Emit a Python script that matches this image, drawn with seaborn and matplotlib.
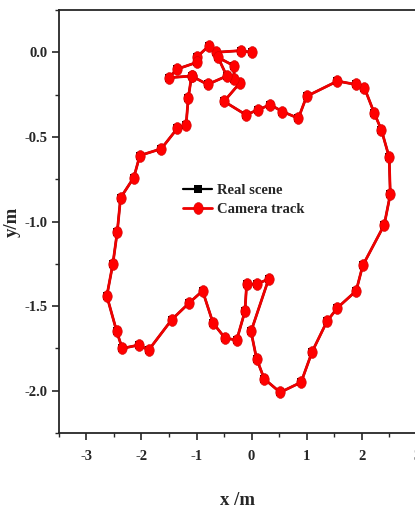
import numpy as np
import pandas as pd
import matplotlib
matplotlib.use("Agg")
import matplotlib.pyplot as plt
import seaborn as sns

# trajectory points (x /m, y /m), in the order they were recorded
track_x = [0.00, -0.20, -0.65, -0.77, -1.00, -1.00, -1.36, -1.50, -1.09, -1.15,
           -1.19, -1.35, -1.64, -2.03, -2.14, -2.38, -2.44, -2.52, -2.63, -2.45,
           -2.35, -2.05, -1.87, -1.45, -1.13, -0.89, -0.70, -0.48, -0.27, -0.12,
           -0.09, 0.09, 0.31, -0.01, 0.09, 0.23, 0.52, 0.90, 1.10, 1.37,
           1.56, 1.90, 2.02, 2.41, 2.52, 2.50, 2.36, 2.23, 2.05, 1.89,
           1.56, 1.00, 0.85, 0.56, 0.34, 0.11, -0.10, -0.50, -0.21, -0.32,
           -0.32, -0.61, -0.45, -0.80, -1.09]
track_y = [0.00, 0.01, 0.00, 0.04, -0.03, -0.06, -0.10, -0.15, -0.14, -0.27,
           -0.43, -0.45, -0.57, -0.61, -0.74, -0.86, -1.06, -1.25, -1.44, -1.65,
           -1.75, -1.73, -1.76, -1.58, -1.48, -1.41, -1.60, -1.69, -1.70, -1.53,
           -1.37, -1.37, -1.34, -1.65, -1.81, -1.93, -2.01, -1.95, -1.77, -1.59,
           -1.51, -1.41, -1.26, -1.02, -0.84, -0.62, -0.46, -0.36, -0.21, -0.19,
           -0.17, -0.26, -0.39, -0.35, -0.31, -0.34, -0.37, -0.29, -0.18, -0.16,
           -0.08, -0.03, -0.14, -0.19, -0.14]

# the real scene lies under the camera track
real_x = list(track_x)
real_y = list(track_y)

df_real = pd.DataFrame({'x': real_x, 'y': real_y})
df_cam = pd.DataFrame({'x': track_x, 'y': track_y})

sns.set_style('ticks')
plt.rcParams['font.family'] = ['Liberation Serif', 'DejaVu Serif']
plt.rcParams['font.weight'] = 'bold'
plt.rcParams['axes.labelweight'] = 'bold'
plt.rcParams['axes.unicode_minus'] = False

fig = plt.figure(figsize=(4.15, 5.14), dpi=100)
ax = fig.add_axes([0.142, 0.1576, 0.9284, 0.8229])

t = np.linspace(0, 2 * np.pi, 40)
oval = list(zip(0.8 * np.cos(t), np.sin(t)))

sns.lineplot(data=df_real, x='x', y='y', sort=False, estimator=None, ax=ax,
             color='black', linewidth=1.6, marker='s', markersize=6,
             markeredgewidth=0, label='Real scene')
sns.lineplot(data=df_cam, x='x', y='y', sort=False, estimator=None, ax=ax,
             color='#ee0000', linewidth=2.0, marker=oval, markersize=8.5,
             markerfacecolor='#ff0000', markeredgecolor='#cc0000',
             markeredgewidth=0.4, label='Camera track')

ax.set_xlim(-3.5, 3.5)
ax.set_ylim(-2.25, 0.25)
ax.set_xticks([-3, -2, -1, 0, 1, 2, 3])
ax.set_xticks(np.arange(-3.5, 3.6, 0.5), minor=True)
ax.set_yticks([0.0, -0.5, -1.0, -1.5, -2.0])
ax.set_yticks(np.arange(-2.25, 0.26, 0.25), minor=True)
ax.set_yticklabels(['0.0', '-0.5', '-1.0', '-1.5', '-2.0'])

ax.tick_params(axis='both', which='major', direction='out', length=5,
               width=1.2, labelsize=10.5, pad=7)
ax.tick_params(axis='both', which='minor', direction='out', length=3, width=1.0)
ax.tick_params(axis='y', which='major', pad=3)
for s in ax.spines.values():
    s.set_linewidth(1.3)

ax.set_xlabel('x /m', fontsize=13.5)
ax.set_ylabel('y/m', fontsize=13.5)
ax.xaxis.set_label_coords((238 - 59) / 385.2, -0.14)
ax.yaxis.set_label_coords(-0.098, 0.5)

leg = ax.legend(loc='upper left', bbox_to_anchor=(0.322, 0.59), frameon=False,
                fontsize=10.5, handlelength=2.0, handletextpad=0.3,
                borderpad=0, borderaxespad=0, labelspacing=0.4)

fig.savefig('out.png', dpi=100)
